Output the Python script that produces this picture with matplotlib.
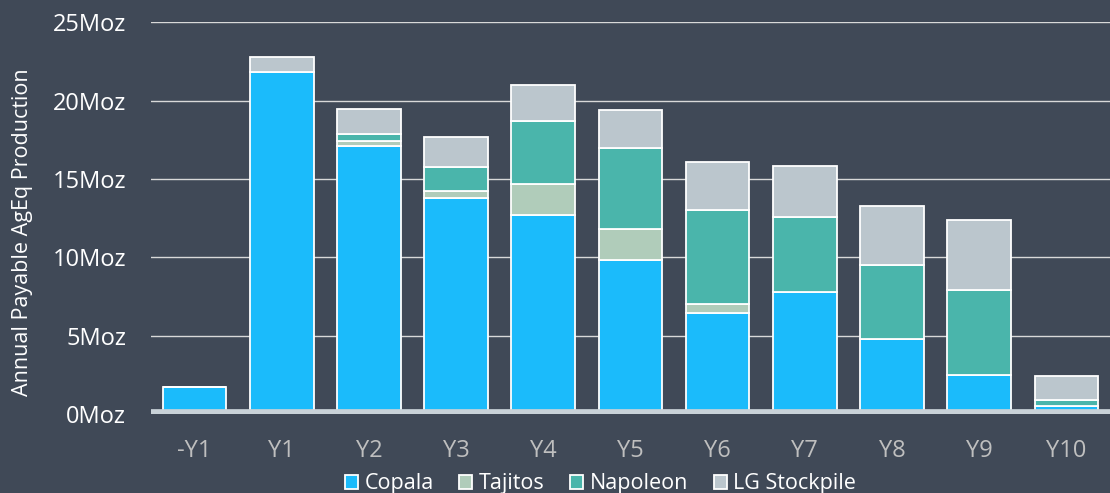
import numpy as np
import matplotlib.pyplot as plt

years = ['-Y1', 'Y1', 'Y2', 'Y3', 'Y4', 'Y5', 'Y6', 'Y7', 'Y8', 'Y9', 'Y10']
copala = [1.7, 21.8, 17.1, 13.8, 12.7, 9.8, 6.45, 7.8, 4.8, 2.5, 0.5]
tajitos = [0, 0, 0.35, 0.45, 2.0, 2.0, 0.55, 0, 0, 0, 0]
napoleon = [0, 0, 0.4, 1.5, 4.0, 5.2, 6.05, 4.8, 4.7, 5.4, 0.4]
stockpile = [0, 1.0, 1.6, 1.9, 2.3, 2.4, 3.05, 3.25, 3.8, 4.5, 1.5]

series = [('Copala', copala, '#1bbbfb'),
          ('Tajitos', tajitos, '#b0ccba'),
          ('Napoleon', napoleon, '#4ab5ab'),
          ('LG Stockpile', stockpile, '#bbc6cd')]

plt.rcParams['font.family'] = ['Open Sans', 'DejaVu Sans']

bg = '#404957'
fig = plt.figure(figsize=(11.1, 4.93), dpi=100, facecolor=bg)
ax = fig.add_axes([0.136, 0.160, 0.864, 0.795])
ax.set_facecolor('none')

x = np.arange(len(years))
bottom = np.zeros(len(years))
for name, vals, col in series:
    vals = np.array(vals)
    ax.bar(x, vals, 0.73, bottom=bottom, color=col, edgecolor='white',
           linewidth=1.3, label=name, zorder=3)
    bottom += vals

ax.set_xlim(-0.5, len(years) - 0.5)
ax.set_ylim(0, 25)
ax.set_yticks([0, 5, 10, 15, 20, 25])
ax.set_yticklabels(['0Moz', '5Moz', '10Moz', '15Moz', '20Moz', '25Moz'])
ax.set_xticks(x)
ax.set_xticklabels(years)
ax.grid(axis='y', color='#d9d9d9', linewidth=1.0, zorder=0)
for s in ax.spines.values():
    s.set_visible(False)
ax.tick_params(axis='y', length=0, pad=18, labelsize=17, labelcolor='white')
ax.tick_params(axis='x', length=0, pad=18, labelsize=17, labelcolor='#bfbfbf')

# light axis band along the base
ax.axhline(0, color='#c9d2d8', linewidth=7, zorder=4)

fig.text(0.020, 0.53, 'Annual Payable AgEq Production', rotation=90,
         ha='center', va='center', color='white', fontsize=15.5)

leg = fig.legend(loc='lower center', bbox_to_anchor=(0.541, -0.042), ncol=4,
                 frameon=False, fontsize=15.5, handlelength=0.6, handleheight=0.6,
                 handletextpad=0.3, columnspacing=1.2, labelcolor='white')

fig.savefig('out.png', dpi=100, facecolor=bg)
